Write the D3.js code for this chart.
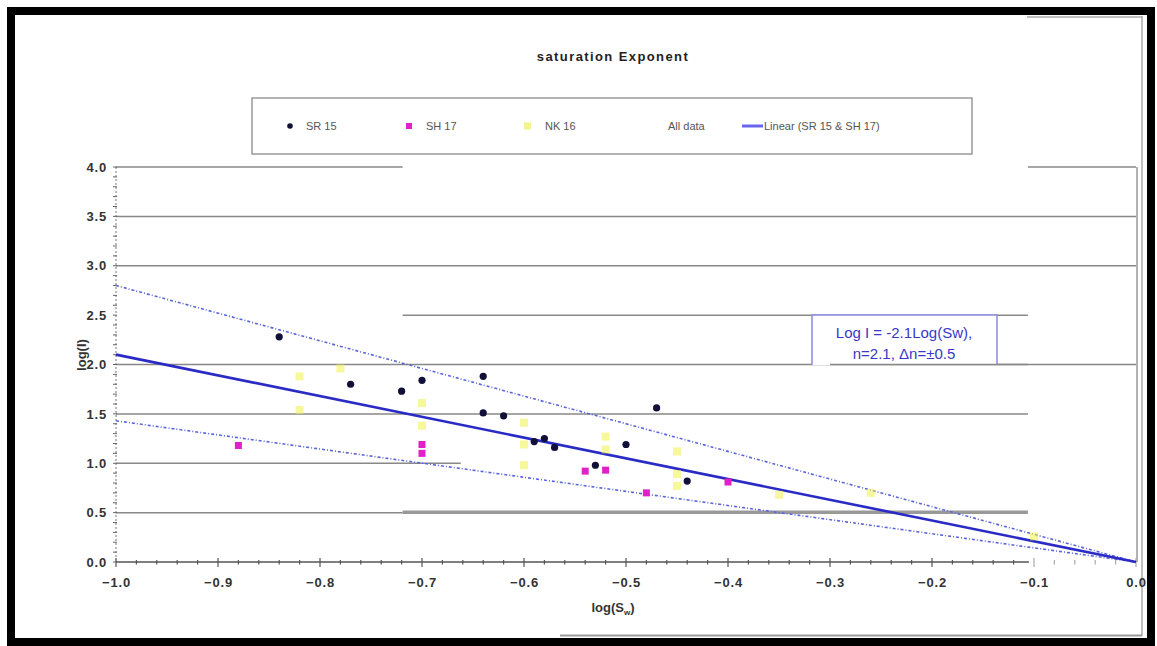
<!DOCTYPE html>
<html>
<head>
<meta charset="utf-8">
<script src="https://cdn.jsdelivr.net/npm/d3@7"></script>
<style>
  html, body { margin: 0; padding: 0; background: #fff; }
  svg { display: block; font-family: "Liberation Sans", Arial, sans-serif; }
</style>
</head>
<body>
<svg id="chart" width="1157" height="646"></svg>
<script>
// Saturation exponent: log(I) against log(Sw) for three sample sets
const sr15X = [-0.84, -0.77, -0.72, -0.70, -0.64, -0.64, -0.62, -0.59, -0.58, -0.57, -0.53, -0.50, -0.47, -0.44];
const sr15Y = [2.28, 1.80, 1.73, 1.84, 1.88, 1.51, 1.48, 1.22, 1.25, 1.16, 0.98, 1.19, 1.56, 0.82];

const sh17X = [-0.88, -0.70, -0.70, -0.54, -0.52, -0.48, -0.40];
const sh17Y = [1.18, 1.19, 1.10, 0.92, 0.93, 0.70, 0.81];

const nk16X = [-0.82, -0.82, -0.78, -0.70, -0.70, -0.60, -0.60, -0.60, -0.52, -0.52, -0.45, -0.45, -0.45, -0.35, -0.26, -0.10];
const nk16Y = [1.88, 1.54, 1.96, 1.61, 1.38, 1.41, 1.19, 0.98, 1.27, 1.14, 1.12, 0.89, 0.77, 0.68, 0.70, 0.26];

// fitted line (n = 2.1) and the upper / lower envelope lines, all through the origin
const fitX = [-1.0, 0.0];
const fitY = [2.1, 0.0];
const upperY = [2.8, 0.0];
const lowerY = [1.43, 0.0];

const xTicks = [-1.0, -0.9, -0.8, -0.7, -0.6, -0.5, -0.4, -0.3, -0.2, -0.1, 0.0];
const yTicks = [0.0, 0.5, 1.0, 1.5, 2.0, 2.5, 3.0, 3.5, 4.0];

// horizontal grid segments: [value, from, to]
const gridFull = [3.5, 3.0, 2.0];
const gridPartial = [[4.0, -1.0, -0.719], [4.0, -0.106, 0.0], [2.5, -0.719, -0.106], [1.5, -1.0, -0.106], [1.0, -1.0, -0.662], [0.5, -1.0, -0.719]];
const gridHeavy = [[0.5, -0.719, -0.106]];

const legendLabels = ["SR 15", "SH 17", "NK 16", "All data", "Linear (SR 15 & SH 17)"];
const titleText = "saturation Exponent";
const noteLines = ["Log I = -2.1Log(Sw),", "n=2.1, \u0394n=\u00b10.5"];

const svg = d3.select("#chart");

const x = d3.scaleLinear().domain([-1, 0]).range([116, 1136]);
const y = d3.scaleLinear().domain([0, 4]).range([562, 167]);

// outer frame
svg.append("rect").attr("x", 11).attr("y", 11).attr("width", 1140).attr("height", 631)
  .attr("fill", "none").attr("stroke", "#000").attr("stroke-width", 8);
svg.append("line").attr("x1", 1142).attr("x2", 1142).attr("y1", 16).attr("y2", 636)
  .attr("stroke", "#aaa").attr("stroke-width", 1.5);
svg.append("line").attr("x1", 1027).attr("x2", 1142).attr("y1", 17).attr("y2", 17)
  .attr("stroke", "#aaa").attr("stroke-width", 1.5);
svg.append("line").attr("x1", 560).attr("x2", 1142).attr("y1", 635.5).attr("y2", 635.5)
  .attr("stroke", "#999").attr("stroke-width", 2);

// title
svg.append("text").attr("x", 613).attr("y", 61).attr("text-anchor", "middle")
  .attr("font-size", 13).attr("font-weight", "bold").attr("fill", "#222")
  .attr("letter-spacing", 1.4)
  .text(titleText);

// legend box
const lg = svg.append("g");
lg.append("rect").attr("x", 252).attr("y", 98).attr("width", 720).attr("height", 56)
  .attr("fill", "#fff").attr("stroke", "#999").attr("stroke-width", 1.5);
const legY = 126;
lg.append("circle").attr("cx", 290).attr("cy", legY).attr("r", 2.8).attr("fill", "#111133");
lg.append("rect").attr("x", 406).attr("y", legY - 3).attr("width", 6).attr("height", 6).attr("fill", "#e020c8");
lg.append("rect").attr("x", 524).attr("y", legY - 3.5).attr("width", 7).attr("height", 7)
  .attr("fill", "#f0f060").attr("opacity", 0.7);
lg.append("line").attr("x1", 742).attr("x2", 763).attr("y1", legY).attr("y2", legY)
  .attr("stroke", "#6666ee").attr("stroke-width", 3);
const legX = [306, 426, 545, 668, 764];
lg.selectAll("text.leg").data(legendLabels).join("text").attr("class", "leg")
  .attr("x", (d, i) => legX[i]).attr("y", legY + 4)
  .attr("font-size", 11).attr("fill", "#555").text(d => d);

// grid lines
const grid = svg.append("g");
gridFull.forEach(v => grid.append("line")
  .attr("x1", x(-1)).attr("x2", x(0)).attr("y1", y(v)).attr("y2", y(v))
  .attr("stroke", "#888").attr("stroke-width", 1.5));
gridPartial.forEach(([v, a, b]) => grid.append("line")
  .attr("x1", x(a)).attr("x2", x(b)).attr("y1", y(v)).attr("y2", y(v))
  .attr("stroke", "#888").attr("stroke-width", 1.5));
gridHeavy.forEach(([v, a, b]) => grid.append("line")
  .attr("x1", x(a)).attr("x2", x(b)).attr("y1", y(v) - 0.5).attr("y2", y(v) - 0.5)
  .attr("stroke", "#999").attr("stroke-width", 3.5));
// right edge of plot area
grid.append("line").attr("x1", x(0) + 1).attr("x2", x(0) + 1).attr("y1", y(4)).attr("y2", y(0))
  .attr("stroke", "#999").attr("stroke-width", 1.5);

// axes
const xAxis = d3.axisBottom(x).tickValues(xTicks).tickSize(0).tickPadding(16)
  .tickFormat(d3.format(".1f"));
const gx = svg.append("g").attr("transform", `translate(0,${y(0)})`).call(xAxis);
gx.select(".domain").remove();
gx.selectAll("text").attr("font-size", 13).attr("font-weight", "bold").attr("fill", "#333")
  .attr("letter-spacing", 0.8)
  .attr("font-family", "Liberation Sans, Arial, sans-serif");
svg.append("line").attr("x1", x(-1)).attr("x2", x(-0.105)).attr("y1", y(0)).attr("y2", y(0))
  .attr("stroke", "#555").attr("stroke-width", 1.3);
const minorX = d3.range(0, 51).map(i => -1 + i * 0.02);
svg.append("g").selectAll("line").data(minorX).join("line")
  .attr("x1", d => x(d)).attr("x2", d => x(d))
  .attr("y1", d => Math.abs(Math.round(d * 10) - d * 10) < 1e-6 ? y(0) - 4 : y(0) - 2)
  .attr("y2", d => Math.abs(Math.round(d * 10) - d * 10) < 1e-6 ? y(0) + 5 : y(0) + 2.5)
  .attr("stroke", d => d > -0.1 ? "#aaa" : "#555").attr("stroke-width", 1.2);

const yAxis = d3.axisLeft(y).tickValues(yTicks).tickSize(0).tickPadding(9)
  .tickFormat(d3.format(".1f"));
const gy = svg.append("g").attr("transform", `translate(${x(-1)},0)`).call(yAxis);
gy.select(".domain").remove();
gy.selectAll("text").attr("font-size", 13).attr("font-weight", "bold").attr("fill", "#333")
  .attr("letter-spacing", 0.8)
  .attr("font-family", "Liberation Sans, Arial, sans-serif");
svg.append("line").attr("x1", x(-1)).attr("x2", x(-1)).attr("y1", y(4)).attr("y2", y(0))
  .attr("stroke", "#777").attr("stroke-width", 1).attr("stroke-dasharray", "2,2");
const minorY = d3.range(0, 41).map(i => i * 0.1);
svg.append("g").selectAll("line").data(minorY).join("line")
  .attr("x1", x(-1) - 3).attr("x2", x(-1) + 1)
  .attr("y1", d => y(d)).attr("y2", d => y(d))
  .attr("stroke", "#666").attr("stroke-width", 1);

// axis titles
const xt = svg.append("text").attr("x", 613).attr("y", 612).attr("text-anchor", "middle")
  .attr("font-size", 13).attr("font-weight", "bold").attr("fill", "#333");
xt.append("tspan").text("log(S");
xt.append("tspan").attr("font-size", 8).attr("dy", 3).text("w");
xt.append("tspan").attr("dy", -3).text(")");
svg.append("text").attr("transform", "translate(86,355) rotate(-90)").attr("text-anchor", "middle")
  .attr("font-size", 13).attr("font-weight", "bold").attr("fill", "#333").text("log(I)");

// fitted and envelope lines
const line = d3.line().x(d => x(d[0])).y(d => y(d[1]));
const pairs = ys => fitX.map((v, i) => [v, ys[i]]);
svg.append("path").attr("d", line(pairs(upperY))).attr("fill", "none")
  .attr("stroke", "#5a66d8").attr("stroke-width", 1.6).attr("stroke-dasharray", "3,2,1,2");
svg.append("path").attr("d", line(pairs(lowerY))).attr("fill", "none")
  .attr("stroke", "#5a66d8").attr("stroke-width", 1.6).attr("stroke-dasharray", "3,2,1,2");
svg.append("path").attr("d", line(pairs(fitY))).attr("fill", "none")
  .attr("stroke", "#2a2ac4").attr("stroke-width", 2.6);

// data points
const pts = (xs, ys) => xs.map((v, i) => [v, ys[i]]);
svg.append("g").selectAll("rect").data(pts(nk16X, nk16Y)).join("rect")
  .attr("x", d => x(d[0]) - 4).attr("y", d => y(d[1]) - 4)
  .attr("width", 8).attr("height", 8).attr("fill", "#f2f25a").attr("opacity", 0.6);
svg.append("g").selectAll("rect").data(pts(sh17X, sh17Y)).join("rect")
  .attr("x", d => x(d[0]) - 3.5).attr("y", d => y(d[1]) - 3.5)
  .attr("width", 7).attr("height", 7).attr("fill", "#e020c8");
svg.append("g").selectAll("circle").data(pts(sr15X, sr15Y)).join("circle")
  .attr("cx", d => x(d[0])).attr("cy", d => y(d[1])).attr("r", 3.6).attr("fill", "#101038");

// equation note, clipped along its lower edge
const note = svg.append("g");
svg.append("clipPath").attr("id", "noteClip").append("rect")
  .attr("x", 810).attr("y", 312).attr("width", 190).attr("height", 53);
note.attr("clip-path", "url(#noteClip)");
note.append("rect").attr("x", 812).attr("y", 315).attr("width", 185).attr("height", 58)
  .attr("fill", "#fff").attr("stroke", "#8a8ae0").attr("stroke-width", 1.5);
note.selectAll("text").data(noteLines).join("text")
  .attr("x", 904).attr("y", (d, i) => 338 + i * 21).attr("text-anchor", "middle")
  .attr("font-size", 15).attr("fill", "#3838c8").text(d => d);
svg.append("line").attr("x1", x(-0.3)).attr("x2", x(-0.106)).attr("y1", y(2)).attr("y2", y(2))
  .attr("stroke", "#888").attr("stroke-width", 1.5);
</script>
</body>
</html>
